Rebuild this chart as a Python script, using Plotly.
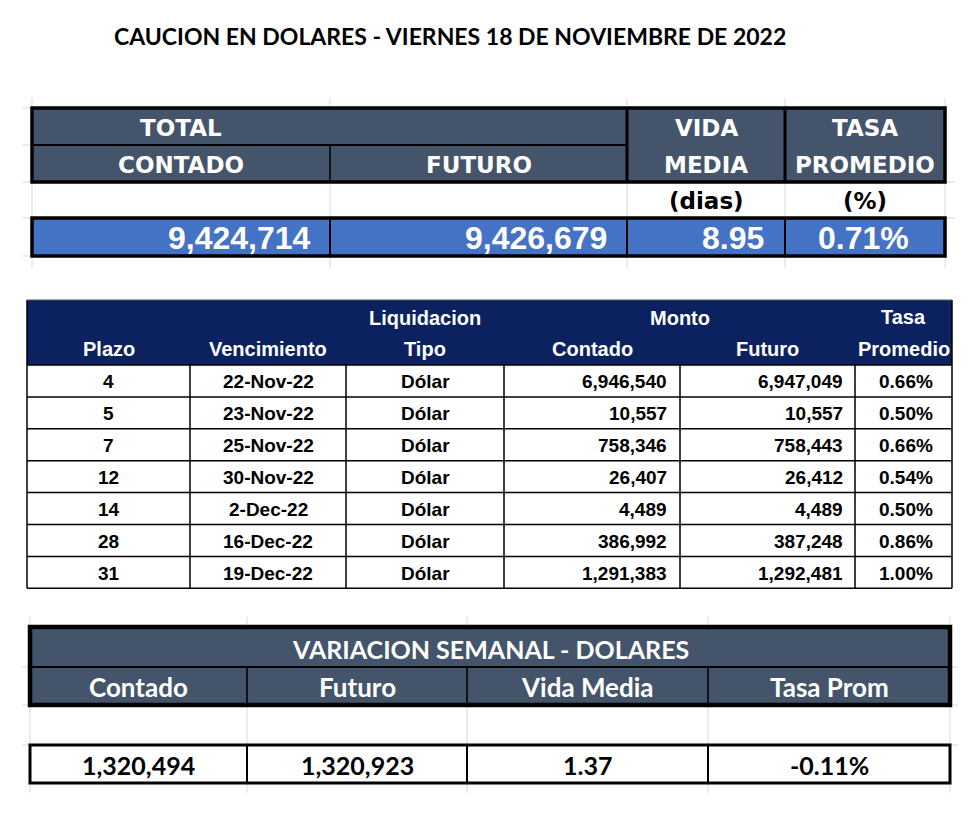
import plotly.graph_objects as go

# ---------------- DATA ----------------
title_text = "CAUCION EN DOLARES - VIERNES 18 DE NOVIEMBRE DE 2022"

total_header_top = ["TOTAL", "VIDA", "TASA"]
total_header_bottom = ["CONTADO", "FUTURO", "MEDIA", "PROMEDIO"]
total_units = ["", "", "(dias)", "(%)"]
total_values = ["9,424,714", "9,426,679", "8.95", "0.71%"]

detail_header_top = ["", "", "Liquidacion", "Monto", "", "Tasa"]
detail_header_bottom = ["Plazo", "Vencimiento", "Tipo", "Contado", "Futuro", "Promedio"]
plazo = [4, 5, 7, 12, 14, 28, 31]
vencimiento = ["22-Nov-22", "23-Nov-22", "25-Nov-22", "30-Nov-22", "2-Dec-22", "16-Dec-22", "19-Dec-22"]
tipo = ["Dólar"] * 7
monto_contado = [6946540, 10557, 758346, 26407, 4489, 386992, 1291383]
monto_futuro = [6947049, 10557, 758443, 26412, 4489, 387248, 1292481]
tasa_promedio = [0.66, 0.50, 0.66, 0.54, 0.50, 0.86, 1.00]

var_title = "VARIACION SEMANAL - DOLARES"
var_headers = ["Contado", "Futuro", "Vida Media", "Tasa Prom"]
var_values = ["1,320,494", "1,320,923", "1.37", "-0.11%"]

# ---------------- LAYOUT CONSTANTS ----------------
W, H = 980, 816
OFF = 8  # default page body margin
SLATE = "#44546A"
NAVY = "#0C2160"
BLUE = "#4472C4"
GRID = "#D9D9D9"

T1_X = [32, 330, 627, 785, 945]
T1_Y = [108, 145, 182, 218, 256]

T2_X = [27, 190, 346, 504, 680, 855, 952]
T2_HEAD = (300, 365)
T2_ROW_H = 31.9

T3_X = [30, 247, 467, 708, 950]
T3_Y = [627, 667, 705, 745, 783]

shapes = []
annotations = []


def rect(x0, y0, x1, y1, fill=None, line_color=None, lw=0):
    shapes.append(dict(type="rect", xref="x", yref="y", x0=x0, y0=y0, x1=x1, y1=y1,
                       fillcolor=fill if fill else "rgba(0,0,0,0)",
                       line=dict(color=line_color if line_color else "rgba(0,0,0,0)", width=lw),
                       layer="below" if fill and not lw else "above"))


def line(x0, y0, x1, y1, color="black", lw=1.5):
    shapes.append(dict(type="line", xref="x", yref="y", x0=x0, y0=y0, x1=x1, y1=y1,
                       line=dict(color=color, width=lw), layer="above"))


def text(x, y, s, size, color="black", family="Liberation Sans", bold=False, anchor="center"):
    if bold:
        s = "<b>" + s + "</b>"
    annotations.append(dict(x=x, y=y, xref="x", yref="y", text=s, showarrow=False,
                            xanchor=anchor, yanchor="middle",
                            font=dict(size=size, color=color, family=family)))


# ---------------- TITLE ----------------
text(450, 36, title_text, 23, family="Lato", bold=True)

# ---------------- TABLE 1 ----------------
VERD = "DejaVu Sans"
for x in T1_X:
    line(x, 98, x, T1_Y[0], GRID, 1)
    line(x, T1_Y[4], x, 268, GRID, 1)
    line(x, T1_Y[2], x, T1_Y[3], GRID, 1)
for y in [T1_Y[0], T1_Y[1], T1_Y[2], T1_Y[3], T1_Y[4]]:
    line(22, y, T1_X[0], y, GRID, 1)
line(T1_X[4], T1_Y[2], 955, T1_Y[2], GRID, 1)
line(T1_X[4], T1_Y[3], 955, T1_Y[3], GRID, 1)

rect(T1_X[0], T1_Y[0], T1_X[4], T1_Y[2], fill=SLATE)
rect(T1_X[0], T1_Y[3], T1_X[4], T1_Y[4], fill=BLUE)
line(T1_X[0], T1_Y[1], T1_X[2], T1_Y[1], "black", 2)
line(T1_X[1], T1_Y[1], T1_X[1], T1_Y[2], "black", 1.5)
line(T1_X[2], T1_Y[0], T1_X[2], T1_Y[2], "black", 3)
line(T1_X[3], T1_Y[0], T1_X[3], T1_Y[2], "black", 3)
rect(T1_X[0], T1_Y[0], T1_X[4], T1_Y[2], line_color="black", lw=3.5)
for x in T1_X[1:4]:
    line(x, T1_Y[3], x, T1_Y[4], "black", 2)
rect(T1_X[0], T1_Y[3], T1_X[4], T1_Y[4], line_color="black", lw=3.5)

cx1 = [(T1_X[i] + T1_X[i + 1]) / 2 for i in range(4)]
ym_top = (T1_Y[0] + T1_Y[1]) / 2 + 1
ym_bot = (T1_Y[1] + T1_Y[2]) / 2 + 1
HS = 23
text((T1_X[0] + T1_X[1]) / 2, ym_top, total_header_top[0], HS, "white", VERD, True)
text(cx1[2], ym_top, total_header_top[1], HS, "white", VERD, True)
text(cx1[3], ym_top, total_header_top[2], HS, "white", VERD, True)
for i, s in enumerate(total_header_bottom):
    text(cx1[i], ym_bot, s, HS, "white", VERD, True)
for i, s in enumerate(total_units):
    if s:
        text(cx1[i], (T1_Y[2] + T1_Y[3]) / 2 + 1, s, 23, "black", VERD, True)
yv = (T1_Y[3] + T1_Y[4]) / 2 + 1
val_right = [T1_X[1] - 17, T1_X[2] - 18, T1_X[3] - 19]
for i in range(3):
    text(val_right[i], yv, total_values[i], 32, "white", "Liberation Sans", True, "right")
text(cx1[3] - 2, yv, total_values[3], 32, "white", "Liberation Sans", True)

# ---------------- TABLE 2 ----------------
h0, h1 = T2_HEAD
rect(T2_X[0], h0, T2_X[-1], h1, fill=NAVY)
n = len(plazo)
row_y = [h1 + i * T2_ROW_H for i in range(n + 1)]
for y in row_y:
    line(T2_X[0], y, T2_X[-1], y, "black", 1.5)
for x in T2_X:
    line(x, h1, x, row_y[-1], "black", 1.5)
line(T2_X[0], h0, T2_X[0], h1, "black", 1.5)
line(T2_X[-1], h0, T2_X[-1], h1, "black", 1.5)
line(T2_X[0], h0, T2_X[-1], h0, "#555555", 1)

cx2 = [(T2_X[i] + T2_X[i + 1]) / 2 for i in range(6)]
F2 = "Liberation Sans"
text(cx2[2], 318, detail_header_top[2], 20, "white", F2, True)
text((T2_X[3] + T2_X[5]) / 2, 318, detail_header_top[3], 20, "white", F2, True)
text(cx2[5], 317, detail_header_top[5], 20, "white", F2, True)
for i, s in enumerate(detail_header_bottom):
    text(cx2[i], 349, s, 20, "white", F2, True)

DS = 19
for r in range(n):
    y = (row_y[r] + row_y[r + 1]) / 2 + 1
    text(cx2[0], y, str(plazo[r]), DS, "black", F2, True)
    text(cx2[1], y, vencimiento[r], DS, "black", F2, True)
    text(cx2[2], y, tipo[r], DS, "black", F2, True)
    text(T2_X[4] - 11, y, f"{monto_contado[r]:,}", DS, "black", F2, True, "right")
    text(T2_X[5] - 10, y, f"{monto_futuro[r]:,}", DS, "black", F2, True, "right")
    text(cx2[5] + 2, y, f"{tasa_promedio[r]:.2f}%", DS, "black", F2, True)

# ---------------- TABLE 3 ----------------
CAL = "Lato"
for x in T3_X:
    line(x, 617, x, T3_Y[0], GRID, 1)
    line(x, T3_Y[2], x, T3_Y[3], GRID, 1)
    line(x, T3_Y[4], x, 793, GRID, 1)
for y in [T3_Y[1], T3_Y[2], T3_Y[3]]:
    line(22, y, T3_X[0], y, GRID, 1)
    line(T3_X[-1], y, 958, y, GRID, 1)

rect(T3_X[0], T3_Y[0], T3_X[-1], T3_Y[2], fill=SLATE)
line(T3_X[0], T3_Y[1], T3_X[-1], T3_Y[1], "black", 2)
for x in T3_X[1:-1]:
    line(x, T3_Y[1], x, T3_Y[2], "black", 1.5)
rect(T3_X[0], T3_Y[0], T3_X[-1], T3_Y[2], line_color="black", lw=4.5)
for x in T3_X[1:-1]:
    line(x, T3_Y[3], x, T3_Y[4], "black", 2)
rect(T3_X[0], T3_Y[3], T3_X[-1], T3_Y[4], line_color="black", lw=3)

cx3 = [(T3_X[i] + T3_X[i + 1]) / 2 for i in range(4)]
text(490, (T3_Y[0] + T3_Y[1]) / 2 + 2, var_title, 25, "white", CAL, True)
for i, s in enumerate(var_headers):
    text(cx3[i], (T3_Y[1] + T3_Y[2]) / 2 + 1, s, 26, "white", CAL, True)
for i, s in enumerate(var_values):
    text(cx3[i], (T3_Y[3] + T3_Y[4]) / 2 + 1, s, 25, "black", CAL, True)

# ---------------- FIGURE ----------------
fig = go.Figure()
fig.add_trace(go.Scatter(x=[OFF, W - OFF], y=[OFF, H - OFF], mode="markers", marker=dict(opacity=0),
                         hoverinfo="skip", showlegend=False))
fig.update_layout(
    width=W - 2 * OFF, height=H - 2 * OFF, margin=dict(l=0, r=0, t=0, b=0),
    paper_bgcolor="white", plot_bgcolor="white",
    xaxis=dict(range=[OFF, W - OFF], visible=False, fixedrange=True),
    yaxis=dict(range=[H - OFF, OFF], visible=False, fixedrange=True),
    shapes=shapes, annotations=annotations, showlegend=False,
)
fig.write_html("out.html")
